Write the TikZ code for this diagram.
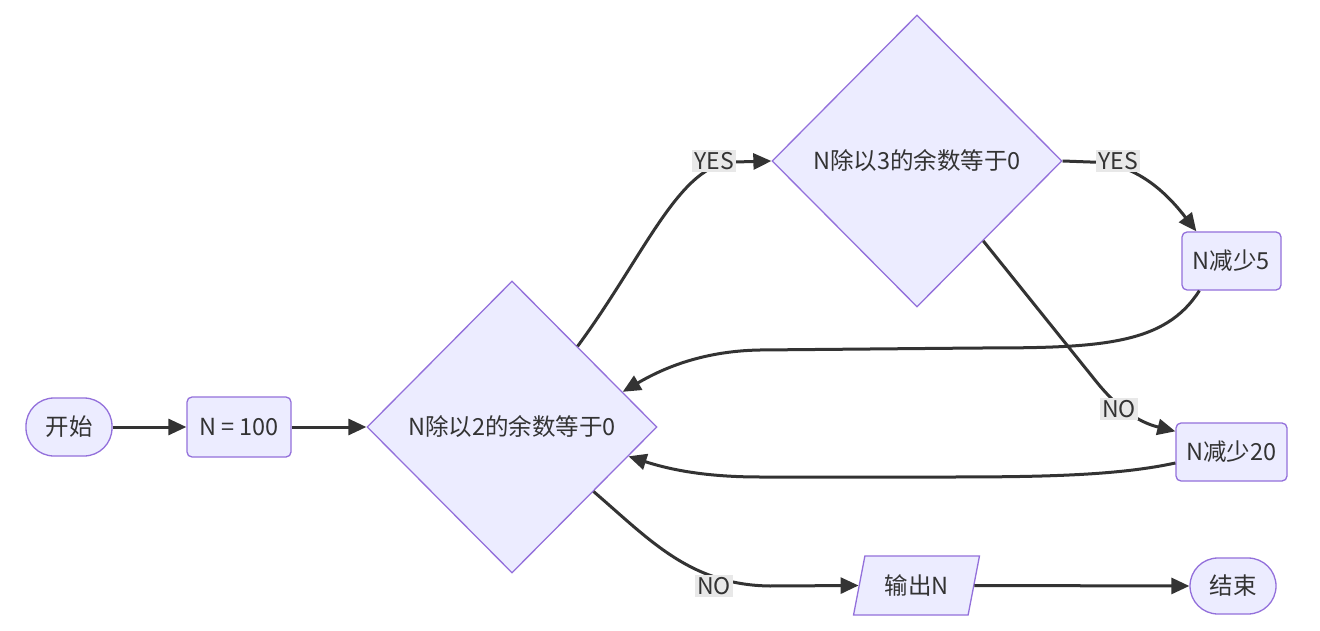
\documentclass[tikz,border=0pt]{standalone}
\usepackage{fontspec}
\setmainfont{Noto Sans CJK SC}
\usetikzlibrary{shapes.geometric,arrows.meta,calc}
\definecolor{nodefill}{HTML}{ECECFF}
\definecolor{nodeline}{HTML}{9370DB}
\definecolor{edgecol}{HTML}{333333}
\definecolor{lblbg}{HTML}{E8E8E8}
\tikzset{
  box/.style={draw=nodeline, fill=nodefill, line width=1.3pt, rounded corners=5pt, inner sep=0pt},
  stadium/.style={box, rounded corners=28pt},
  decision/.style={diamond, draw=nodeline, fill=nodefill, line width=1.3pt, inner sep=0pt},
  iobox/.style={trapezium, trapezium left angle=72, trapezium right angle=108, trapezium stretches=true, draw=nodeline, fill=nodefill, line width=1.3pt, inner sep=0pt},
  flow/.style={draw=edgecol, line width=3pt, -{Triangle[length=18pt,width=16pt]}},
  lbl/.style={fill=lblbg, inner sep=2pt, font=\fontsize{23}{27}\selectfont}
}
\begin{document}
\begin{tikzpicture}[x=1pt, y=-1pt, font=\fontsize{23.5}{27}\selectfont, text=edgecol]
\useasboundingbox[fill=white] (0,0) rectangle (1320,631);
\node[stadium, minimum width=86pt, minimum height=58pt] (start) at (69,427) {开始};
\node[box, minimum width=104pt, minimum height=60pt] (n100) at (239,427) {N = 100};
\node[decision, minimum width=290pt, minimum height=292pt] (d1) at (512,427) {N除以2的余数等于0};
\node[decision, minimum width=290pt, minimum height=292pt] (d2) at (917,161) {N除以3的余数等于0};
\node[box, minimum width=99pt, minimum height=58pt] (n5) at (1231.5,261) {N减少5};
\node[box, minimum width=111pt, minimum height=58pt] (n20) at (1231.5,452) {N减少20};
\node[iobox, minimum width=126pt, minimum height=59pt] (out) at (916.5,585.5) {输出N};
\node[stadium, minimum width=86pt, minimum height=56pt] (end) at (1233,586) {结束};

\draw[flow] (start) -- (n100);
\draw[flow] (n100.east) -- (d1.west);
\draw[flow] ($(d1.north)!0.45!(d1.east)$) .. controls (645,255) and (680,162) .. (735,162) -- (d2.west);
\draw[flow] (d2.east) -- (1090,162) .. controls (1140,162) and (1172,200) .. ($(n5.north west)+(15,0)$);
\draw[flow] ($(d2.east)!0.545!(d2.south)$) -- (1095,380) .. controls (1125,418) and (1150,425) .. ($(n20.north west)+(0,9)$);
\draw[flow] ($(n5.south west)+(18,0)$) .. controls (1165,345) and (1100,348) .. (980,348) -- (760,350) .. controls (700,351) and (660,370) .. ($(d1.north)!0.76!(d1.east)$);
\draw[flow] ($(n20.west)+(0,11)$) .. controls (1120,475) and (1050,477) .. (950,477) -- (760,477) .. controls (700,477) and (665,468) .. ($(d1.east)!0.2!(d1.south)$);
\draw[flow] ($(d1.east)!0.44!(d1.south)$) .. controls (650,540) and (690,585) .. (770,586) -- (out.west);
\draw[flow] (out.east) -- (end.west);

\node[lbl] (l1) at (714,161) {YES};
\node[lbl] (l2) at (1118,161) {YES};
\node[lbl] (l3) at (1119,409) {NO};
\node[lbl] (l4) at (714,586) {NO};
\end{tikzpicture}
\end{document}
